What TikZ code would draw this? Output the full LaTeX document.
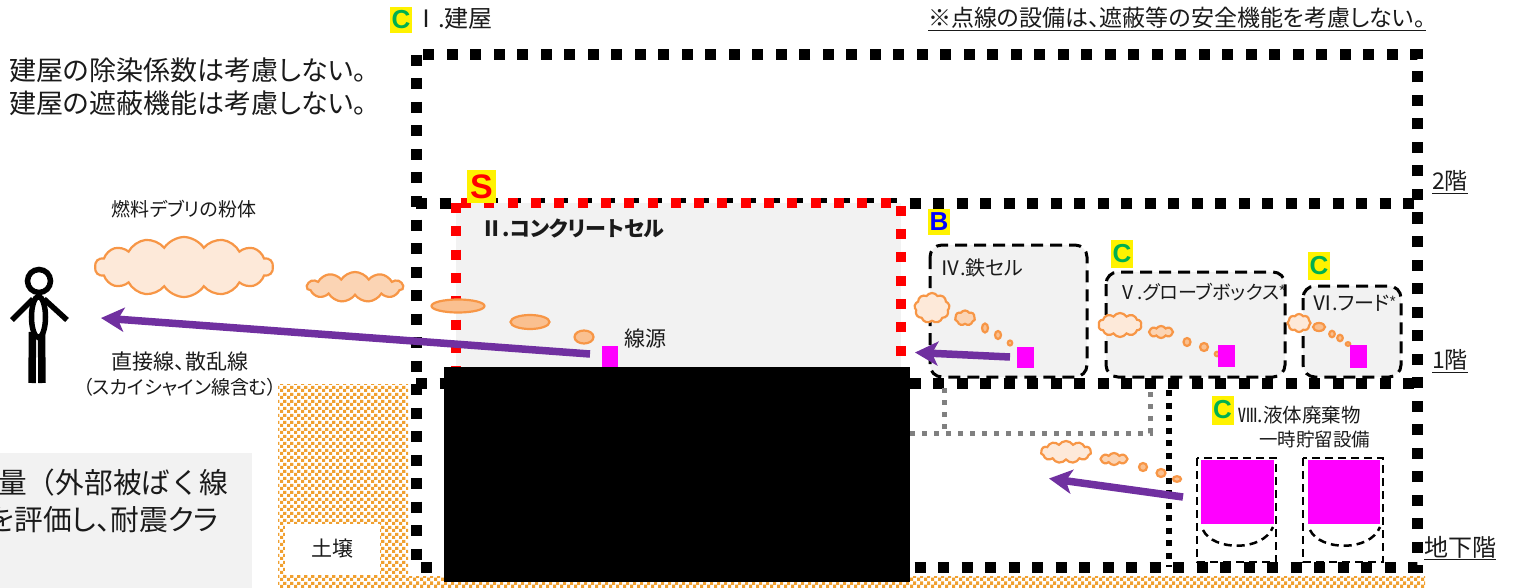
\documentclass[tikz,border=0pt]{standalone}
\usepackage{fontspec}
\setmainfont{Noto Sans CJK JP}[RawFeature=+palt]
\newfontfamily\jpfull{Noto Sans CJK JP}
\newfontfamily\latinbold{Liberation Sans}
\usetikzlibrary{shapes.symbols,arrows.meta,patterns}
\newcommand{\jsize}[1]{\fontsize{#1pt}{#1pt}\selectfont}
\newcommand{\upstar}{\raisebox{4pt}{\latinbold\jsize{15}*}}

\definecolor{cellgray}{HTML}{F2F2F2}
\definecolor{puffline}{HTML}{F79646}
\definecolor{puffpale}{HTML}{FDE9D9}
\definecolor{puffmid}{HTML}{FBD4B4}
\definecolor{puffdark}{HTML}{FAC090}
\definecolor{raycol}{HTML}{7030A0}
\definecolor{soilcol}{HTML}{F0A030}
\definecolor{gradegreen}{HTML}{00B050}
\definecolor{srcmag}{HTML}{FF00FF}
\definecolor{inkcol}{HTML}{1A1A1A}
\definecolor{dotgray}{HTML}{808080}

% soil: staggered small squares
\pgfdeclarepatternformonly{soil}{\pgfpointorigin}{\pgfqpoint{7pt}{7pt}}{\pgfqpoint{7pt}{7pt}}{%
  \pgfpathrectangle{\pgfqpoint{0pt}{0pt}}{\pgfqpoint{3.6pt}{3.6pt}}%
  \pgfpathrectangle{\pgfqpoint{3.5pt}{3.5pt}}{\pgfqpoint{3.6pt}{3.6pt}}%
  \pgfusepath{fill}}

\begin{document}
\begin{tikzpicture}[x=1pt,y=-1pt,
  txt/.style={inner sep=0pt, text=inkcol},
  wall/.style={draw=black, line width=11pt, dash pattern=on 11pt off 12.5pt},
  redwall/.style={draw=red, line width=10pt, dash pattern=on 10pt off 13.3pt},
  thinwall/.style={draw=black, line width=6pt, dash pattern=on 6pt off 6.5pt},
  graywall/.style={draw=dotgray, line width=5pt, dash pattern=on 5pt off 7pt},
  cellbox/.style={draw=black, fill=cellgray, line width=3pt, dash pattern=on 12pt off 7pt, rounded corners=12pt},
  tankbox/.style={draw=black, line width=2.5pt, dash pattern=on 8pt off 5pt},
  src/.style={fill=srcmag, draw=none, inner sep=0pt},
  puff/.style={cloud, cloud puffs=#1, cloud puff arc=115, cloud ignores aspect, draw=puffline, line width=2.2pt, inner sep=0pt},
  drop/.style={draw=puffline, fill=puffdark, line width=2.2pt},
  ray/.style={draw=raycol, line width=7.5pt, -{Stealth[length=23pt, width=24pt, inset=6pt]}},
  grade/.style={fill=yellow, inner sep=0pt, minimum width=22pt, minimum height=26pt, font=\latinbold\bfseries\jsize{26}},
  floor/.style={txt, anchor=west, font=\jsize{23}},
  figline/.style={draw=black, line width=5.5pt}
]
\useasboundingbox (0,0) rectangle (1514,588);
\fill[white] (0,0) rectangle (1514,588);

% ground around and under the building
\fill[pattern=soil, pattern color=soilcol] (278,384) rectangle (408,588);
\fill[pattern=soil, pattern color=soilcol] (408,576) rectangle (1425,588);
\node[fill=white, minimum width=95pt, minimum height=51pt, inner sep=0pt] (soilbox) at (332,549) {};
\node[txt, font=\jsize{21}] (soiltext) at (332,549) {土壌};

% grey note box (its text runs past the left edge)
\fill[cellgray] (0,453) rectangle (252,588);
\begin{scope}
  \clip (0,453) rectangle (252,588);
  \node[txt, anchor=east, font=\jpfull\jsize{28.7}] (noteA) at (228,483) {量（外部被ばく線};
  \node[txt, anchor=east, font=\jsize{28.7}] (noteB) at (219,520) {量）を評価し、耐震クラ};
\end{scope}

% building outline and floors
\draw[wall] (416,55) rectangle (1417,567);
\draw[wall] (416,203) -- (1417,203);
\draw[wall] (416,383) -- (1417,383);

% concrete cell
\fill[cellgray] (456,203) rectangle (901,383);
\draw[redwall] (456,203) rectangle (901,383);
\node[txt, anchor=west, font=\bfseries\jsize{21}] (cellII) at (481,228) {Ⅱ.コンクリートセル};

% iron cell, glove box, hood
\draw[cellbox] (930,245) rectangle (1087,377);
\draw[cellbox] (1106,272) rectangle (1285,377);
\draw[cellbox] (1303,286) rectangle (1401,377);
\node[txt, anchor=west, font=\jsize{20}] (cellIV) at (940,268) {Ⅳ.鉄セル};
\node[txt, anchor=west, font=\jsize{19}] (cellV) at (1118,292) {Ⅴ.グローブボックス\upstar};
\node[txt, anchor=west, font=\jsize{20}] (cellVI) at (1312,303) {Ⅵ.フード\upstar};

% basement lines
\draw[graywall] (944,388) -- (944,433);
\draw[graywall] (910,433) -- (1150,433) -- (1150,388);
\draw[thinwall] (1169,390) -- (1169,567);

% liquid waste tanks
\node[src, minimum width=73pt, minimum height=64pt] (tankA) at (1237.5,492) {};
\node[src, minimum width=72pt, minimum height=64pt] (tankB) at (1344,492) {};
\draw[tankbox] (1197,458) rectangle (1276,562);
\draw[tankbox] (1303,458) rectangle (1383,562);
\draw[tankbox] (1203,530) .. controls (1213,551) and (1263,552) .. (1273,527);
\draw[tankbox] (1310,530) .. controls (1320,551) and (1370,552) .. (1380,527);
\node[txt, anchor=west, font=\jsize{19.5}] (cellVIIIa) at (1238,415) {Ⅷ.液体廃棄物};
\node[txt, anchor=west, font=\jsize{18.5}] (cellVIIIb) at (1259,439) {一時貯留設備};

% dust outside the building
\node[puff=14, fill=puffpale, minimum width=178pt, minimum height=60pt] (dustA) at (184,267) {};
\node[puff=11, fill=puffmid, minimum width=96pt, minimum height=30pt] (dustB) at (355,287) {};
\node[txt, font=\jsize{19}] (dustlabel) at (184,209) {燃料デブリの粉体};

% dust in the concrete cell
\draw[drop] (458,306) ellipse [x radius=26.5, y radius=6.5];
\draw[drop] (530,322) ellipse [x radius=19.5, y radius=7];
\draw[drop] (584,337) ellipse [x radius=9.5, y radius=6.5];

% dust in the iron cell
\node[puff=9, fill=puffpale, minimum width=35pt, minimum height=30pt] (dustIVa) at (932,308) {};
\node[puff=7, fill=puffmid, minimum width=20pt, minimum height=15pt] (dustIVb) at (965,318) {};
\draw[drop] (985,328) ellipse [x radius=3, y radius=4.5];
\draw[drop] (998,335) ellipse [x radius=3, y radius=4];
\draw[drop] (1010,343) ellipse [x radius=2.2, y radius=2.5];

% dust in the glove box
\node[puff=10, fill=puffpale, minimum width=43pt, minimum height=24pt] (dustVa) at (1120,325) {};
\node[puff=8, fill=puffmid, minimum width=24pt, minimum height=12pt] (dustVb) at (1161,332) {};
\draw[drop] (1187,342) ellipse [x radius=3.5, y radius=4];
\draw[drop] (1204,347) ellipse [x radius=4, y radius=4];
\draw[drop] (1217,354) ellipse [x radius=2.2, y radius=2.2];

% dust in the hood
\node[puff=8, fill=puffpale, minimum width=23pt, minimum height=18pt] (dustVIa) at (1299,323) {};
\draw[drop] (1319,327) ellipse [x radius=6, y radius=4];
\draw[drop] (1332,334) ellipse [x radius=2.8, y radius=3.2];
\draw[drop] (1340,338) ellipse [x radius=2.8, y radius=3.2];
\draw[drop] (1348,344) ellipse [x radius=2.2, y radius=1.8];

% dust in the basement
\node[puff=11, fill=puffpale, minimum width=50pt, minimum height=22pt] (dustBa) at (1066,452) {};
\node[puff=8, fill=puffmid, minimum width=27pt, minimum height=12pt] (dustBb) at (1114,459) {};
\draw[drop] (1143,467) ellipse [x radius=4, y radius=4];
\draw[drop] (1161,473) ellipse [x radius=4.5, y radius=4];
\draw[drop] (1177,479) ellipse [x radius=4, y radius=2.8];

% sources
\node[src, minimum width=16pt, minimum height=24pt] (srcII) at (610,358) {};
\node[txt, font=\jsize{21}] (srcIIlabel) at (645,339) {線源};
\node[src, minimum width=17pt, minimum height=21pt] (srcIV) at (1025.5,357.5) {};
\node[src, minimum width=17pt, minimum height=22pt] (srcV) at (1226.5,356) {};
\node[src, minimum width=17pt, minimum height=23pt] (srcVI) at (1358.5,356.5) {};

% radiation arrows
\coordinate (rayIIs) at (590,354);
\coordinate (rayIIe) at (101,318);
\coordinate (rayIVs) at (1010,357);
\coordinate (rayIVe) at (915,352.5);
\coordinate (rayBs) at (1183,497);
\coordinate (rayBe) at (1049,478.5);
\draw[ray] (rayIIs) -- (rayIIe);
\draw[ray] (rayIVs) -- (rayIVe);
\draw[ray] (rayBs) -- (rayBe);
\node[txt, font=\jsize{21}] (raylabelA) at (180,362) {直接線、散乱線};
\node[txt, font=\jsize{19}] (raylabelB) at (180,387) {（スカイシャイン線含む）};

% person
\draw[figline] (39,281) circle [radius=11.5];
\draw[figline] (33,299) -- (12,320);
\draw[figline] (44,299) -- (67,320);
\draw[figline, line width=7.5pt] (32.5,332) -- (32,383);
\draw[figline, line width=7.5pt] (41.5,332) -- (42,383);
\draw[figline, fill=white] (38.5,317) ellipse [x radius=7, y radius=20.5];

% class marks
\node[grade, text=gradegreen] (gradeI) at (401,20) {C};
\node[grade, text=red, minimum width=29pt, minimum height=33pt, font=\latinbold\bfseries\jsize{34}] (gradeII) at (481.5,186.5) {S};
\node[grade, text=blue] (gradeIV) at (939,222) {B};
\node[grade, text=gradegreen, minimum height=28pt] (gradeV) at (1122,254) {C};
\node[grade, text=gradegreen, minimum height=28pt] (gradeVI) at (1319,266) {C};
\node[grade, text=gradegreen, minimum height=29pt] (gradeVIII) at (1222.5,410) {C};

% titles and notes
\node[txt, anchor=west, font=\jsize{24}] (bldg) at (414,19) {Ⅰ.建屋};
\node[txt, anchor=west, font=\jsize{23}] (dotnote) at (928,19) {\underline{※点線の設備は、遮蔽等の安全機能を考慮しない。}};
\node[txt, anchor=west, font=\jsize{27}] (bldgnoteA) at (9,70) {建屋の除染係数は考慮しない。};
\node[txt, anchor=west, font=\jsize{27}] (bldgnoteB) at (9,103) {建屋の遮蔽機能は考慮しない。};
\node[floor] (floor2) at (1432,182) {\underline{2階}};
\node[floor] (floor1) at (1432,361) {\underline{1階}};
\node[floor, font=\jsize{24}] (floorB) at (1424,548) {\underline{地下階}};

% covered area
\fill[black] (444,367) rectangle (910,582);
\end{tikzpicture}
\end{document}
